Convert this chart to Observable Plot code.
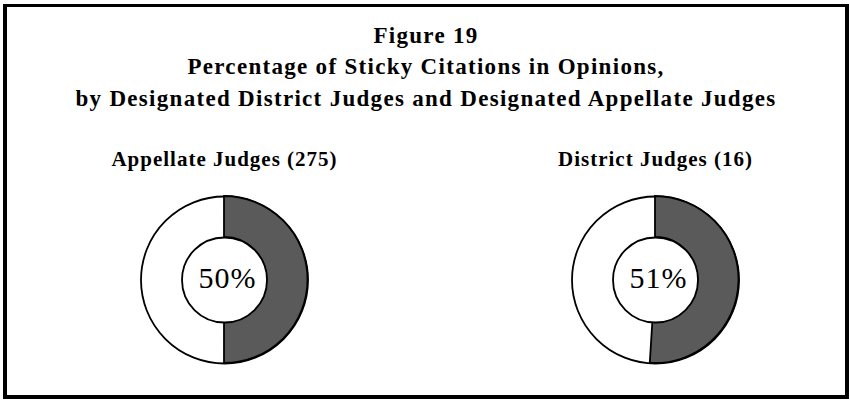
<!DOCTYPE html>
<html>
<head>
<meta charset="utf-8">
<script src="https://cdn.jsdelivr.net/npm/d3@7"></script>
<script src="https://cdn.jsdelivr.net/npm/@observablehq/plot@0.6"></script>
<style>
  html, body { margin: 0; padding: 0; background: #fff; }
  #wrap { position: relative; width: 850px; height: 401px; overflow: hidden; background: #fff; }
  #box { position: absolute; left: 3px; top: 4px; width: 846px; height: 395px; box-sizing: border-box; border: 4px solid #000; border-top-width: 3.5px; }
  #title { position: absolute; left: 3px; width: 846px; top: 19.5px; text-align: center;
           font-family: "Liberation Serif", "Times New Roman", serif; font-weight: bold;
           font-size: 23px; line-height: 31.5px; letter-spacing: 1.3px; color: #000; }
  #chart { position: absolute; left: 0; top: 130px; }
</style>
</head>
<body>
<div id="wrap">
  <div id="box"></div>
  <div id="title">
    <div>Figure 19</div>
    <div>Percentage of Sticky Citations in Opinions,</div>
    <div>by Designated District Judges and Designated Appellate Judges</div>
  </div>
  <div id="chart"></div>
</div>
<script>
// ---- data ----
const groups = ["Appellate Judges (275)", "District Judges (16)"];
const stickyPct = [50, 51];

const data = groups.map((g, i) => ({group: g, pct: stickyPct[i], label: `${stickyPct[i]}%`}));

const OUTER = 83.5, INNER = 42.5;
const SERIF = "'Liberation Serif', 'Times New Roman', serif";

// custom render mark: the dark "sticky" slice, drawn with the plot's x scale
function stickySlices(rows) {
  return (index, scales, values, dimensions) => {
    const cy = (dimensions.marginTop + dimensions.height - dimensions.marginBottom) / 2;
    const arc = d3.arc().innerRadius(INNER).outerRadius(OUTER);
    const g = d3.create("svg:g");
    g.selectAll("path").data(rows).join("path")
      .attr("transform", d => `translate(${scales.x(d.group)},${cy})`)
      .attr("d", d => arc({startAngle: 0, endAngle: 2 * Math.PI * d.pct / 100}))
      .attr("fill", "#5a5a5a")
      .attr("stroke", "#000")
      .attr("stroke-width", 1.8);
    return g.node();
  };
}

const plot = Plot.plot({
  width: 850,
  height: 271,
  marginTop: 60,
  marginBottom: 32,
  marginLeft: 0,
  marginRight: 0,
  style: {background: "transparent", fontFamily: SERIF, letterSpacing: "1px", overflow: "visible"},
  x: {type: "point", domain: groups, range: [224, 655], padding: 0, axis: null},
  marks: [
    Plot.text(data, {x: "group", text: "group", frameAnchor: "top", lineAnchor: "middle", dy: -31.7,
                     fontSize: 21, fontWeight: "bold", fontFamily: SERIF, fill: "#000"}),
    Plot.dot(data, {x: "group", r: OUTER, fill: "#fff", stroke: "#000", strokeWidth: 1.8}),
    stickySlices(data),
    Plot.dot(data, {x: "group", r: INNER, fill: "#fff", stroke: "#000", strokeWidth: 1.8}),
    Plot.text(data, {x: "group", text: "label", fontSize: 30, fontFamily: SERIF, lineAnchor: "middle",
                     dx: 3, dy: -2.1, fill: "#000"})
  ]
});
document.getElementById("chart").appendChild(plot);
</script>
</body>
</html>
